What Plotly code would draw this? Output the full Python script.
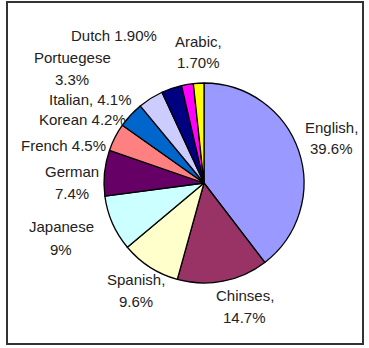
import plotly.graph_objects as go

languages = ["English", "Chinses", "Spanish", "Japanese", "German", "French",
             "Korean", "Italian", "Portuegese", "Dutch", "Arabic"]
shares = [39.6, 14.7, 9.6, 9.0, 7.4, 4.5, 4.2, 4.1, 3.3, 1.9, 1.7]
label_texts = ["English,<br>39.6%", "Chinses,<br>14.7%", "Spanish,<br>9.6%",
               "Japanese<br>9%", "German<br>7.4%", "French 4.5%", "Korean 4.2%",
               "Italian, 4.1%", "Portuegese<br>3.3%", "Dutch 1.90%", "Arabic,<br>1.70%"]
colors = ["#9999FF", "#993366", "#FFFFCC", "#CCFFFF", "#660066", "#FF8080",
          "#0066CC", "#CCCCFF", "#000080", "#FF00FF", "#FFFF00"]

# label anchor positions in pixels (x, y of block centre from top)
label_pos = [(331, 138), (245, 306), (136, 290), (61, 238), (72, 182), (63, 145),
             (82, 119), (90, 99), (72, 69), (114, 36), (198, 52)]
line_gap = 22

W, H = 369, 348
cx, cy, r = 204, 183, 100

fig = go.Figure(go.Pie(
    labels=languages, values=shares, sort=False, direction="clockwise",
    rotation=0, textinfo="none", hoverinfo="label+percent",
    marker=dict(colors=colors, line=dict(color="#000000", width=1.3)),
    domain=dict(x=[(cx - r) / W, (cx + r) / W], y=[(H - cy - r) / H, (H - cy + r) / H]),
    showlegend=False,
))

for txt, (px, py) in zip(label_texts, label_pos):
    lines = txt.split("<br>")
    n = len(lines)
    for i, line in enumerate(lines):
        ly = py + (i - (n - 1) / 2) * line_gap
        fig.add_annotation(x=px / W, y=1 - ly / H, xref="paper", yref="paper",
                           text=line, showarrow=False, xanchor="center", yanchor="middle",
                           font=dict(family="Liberation Sans, Arial", size=15, color="#222222"))

fig.add_shape(type="rect", xref="paper", yref="paper",
              x0=7 / W, x1=363 / W, y0=1 - 344 / H, y1=1 - 2 / H,
              line=dict(color="#333333", width=2))

fig.update_layout(width=W, height=H, margin=dict(l=0, r=0, t=0, b=0),
                  paper_bgcolor="white", plot_bgcolor="white")
fig.write_html("out.html")
